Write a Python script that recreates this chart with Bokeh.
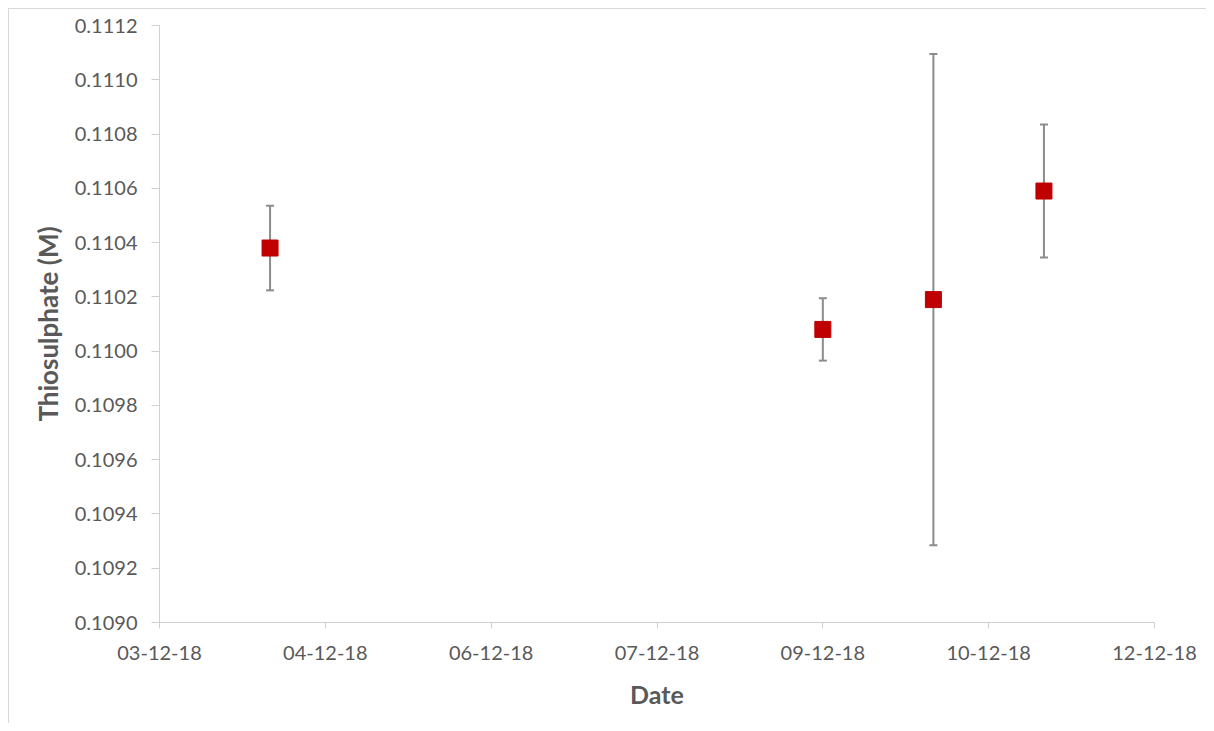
import pandas as pd
from bokeh.plotting import figure
from bokeh.models import (ColumnDataSource, Whisker, TeeHead, Range1d, FixedTicker,
                          DatetimeTickFormatter, NumeralTickFormatter)
from bokeh.embed import file_html
from bokeh.resources import INLINE

# ---- data ----
dates = ["2018-12-04", "2018-12-09", "2018-12-10", "2018-12-11"]
thiosulphate = [0.11038, 0.11008, 0.11019, 0.11059]
error = [0.000156, 0.000115, 0.000905, 0.000245]

x_tick_dates = ["2018-12-03 00:00", "2018-12-04 12:00", "2018-12-06 00:00",
                "2018-12-07 12:00", "2018-12-09 00:00", "2018-12-10 12:00",
                "2018-12-12 00:00"]
y_ticks = [0.1090, 0.1092, 0.1094, 0.1096, 0.1098, 0.1100, 0.1102,
           0.1104, 0.1106, 0.1108, 0.1110, 0.1112]

x = pd.to_datetime(dates)
src = ColumnDataSource(dict(
    x=x,
    y=thiosulphate,
    upper=[v + e for v, e in zip(thiosulphate, error)],
    lower=[v - e for v, e in zip(thiosulphate, error)],
))

def ms(s):
    return pd.Timestamp(s).value // 10**6

FONT = "Lato"
TICK_COLOR = "#595959"
AXIS_COLOR = "#d0d0d0"

p = figure(width=1198, height=715, output_backend="svg", toolbar_location=None,
           x_axis_type="datetime",
           x_range=Range1d(ms(x_tick_dates[0]), ms(x_tick_dates[-1])),
           y_range=Range1d(y_ticks[0], y_ticks[-1]),
           min_border_left=150, min_border_right=53,
           min_border_top=16, min_border_bottom=102)
p.styles = {"margin-left": "8px", "margin-top": "8px",
            "border-left": "1px solid #d9d9d9", "border-top": "1px solid #d9d9d9"}
p.outline_line_color = None
p.xgrid.grid_line_color = None
p.ygrid.grid_line_color = None

whisk = Whisker(base="x", upper="upper", lower="lower", source=src,
                line_color="#8c8c8c", line_width=2,
                upper_head=TeeHead(size=8, line_color="#8c8c8c", line_width=2),
                lower_head=TeeHead(size=8, line_color="#8c8c8c", line_width=2),
                level="underlay")
p.add_layout(whisk)

p.scatter("x", "y", source=src, marker="square", size=16,
          fill_color="#c00000", line_color="#c00000")

# x axis
xa = p.xaxis[0]
xa.ticker = FixedTicker(ticks=[ms(t) for t in x_tick_dates])
fmt = "%d-%m-%y"
xa.formatter = DatetimeTickFormatter(
    microseconds=fmt, milliseconds=fmt, seconds=fmt, minsec=fmt, minutes=fmt,
    hourmin=fmt, hours=fmt, days=fmt, months=fmt, years=fmt)
xa.axis_label = "Date"
xa.minor_tick_line_color = None
xa.major_tick_out = 6
xa.major_tick_in = 0
xa.major_label_standoff = 17
xa.axis_label_standoff = 16
xa.axis_label_text_font_size = "25px"

# y axis
ya = p.yaxis[0]
ya.ticker = FixedTicker(ticks=y_ticks)
ya.formatter = NumeralTickFormatter(format="0.0000")
ya.axis_label = "Thiosulphate (M)"
ya.minor_tick_line_color = None
ya.major_tick_out = 8
ya.major_tick_in = 0
ya.major_label_standoff = 14
ya.axis_label_standoff = 8
ya.axis_label_text_font_size = "26px"

for ax in (xa, ya):
    ax.axis_line_color = AXIS_COLOR
    ax.major_tick_line_color = AXIS_COLOR
    ax.major_label_text_font = FONT
    ax.major_label_text_font_size = "20px"
    ax.major_label_text_color = TICK_COLOR
    ax.axis_label_text_font = FONT
    ax.axis_label_text_font_style = "bold"
    ax.axis_label_text_color = TICK_COLOR

open("out.html", "w").write(file_html(p, INLINE))
